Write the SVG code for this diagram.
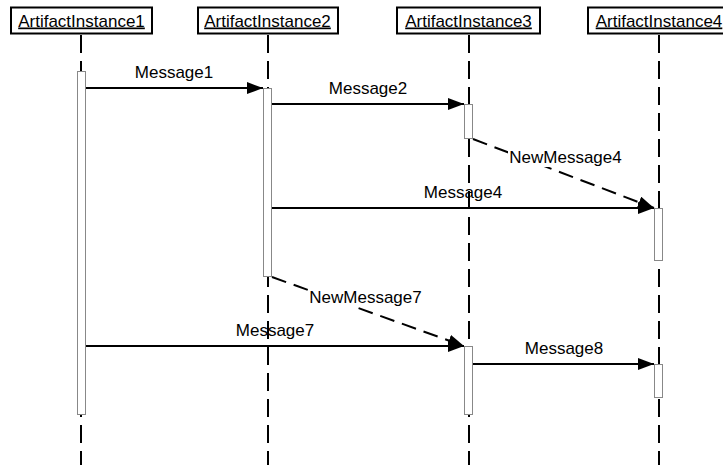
<svg xmlns="http://www.w3.org/2000/svg" width="723" height="465" viewBox="0 0 723 465">
  <style>
    text { font-family: "Liberation Sans", Arial, sans-serif; font-size: 17px; fill: #000; }
    .box { fill: #fff; stroke: #000; stroke-width: 2; }
    .name { text-anchor: middle; text-decoration: underline; }
    .life { stroke: #000; stroke-width: 2; stroke-dasharray: 18 8; fill: none; }
    .bar { fill: #fff; stroke: #888; stroke-width: 1; }
    .msg { stroke: #000; stroke-width: 2; fill: none; marker-end: url(#arrow); }
    .dash { stroke-dasharray: 15 8; }
    .lbl { text-anchor: middle; }
    .lblbg { fill: #fff; }
  </style>
  <defs>
    <marker id="arrow" markerUnits="userSpaceOnUse" markerWidth="16" markerHeight="12" refX="16" refY="6" orient="auto">
      <path d="M0,0 L16,6 L0,12 Z" fill="#000"/>
    </marker>
  </defs>

  <!-- lifelines -->
  <g id="lifelines">
    <line class="life" x1="81" y1="35" x2="81" y2="465"/>
    <line class="life" x1="268" y1="35" x2="268" y2="465"/>
    <line class="life" x1="469" y1="35" x2="469" y2="465"/>
    <line class="life" x1="659" y1="35" x2="659" y2="465"/>
  </g>

  <!-- instance heads and activation bars -->
  <g id="ArtifactInstance1">
    <rect class="box" x="11" y="7.5" width="141" height="26"/>
    <text class="name" x="81.5" y="26.5">ArtifactInstance1</text>
    <rect class="bar" x="77.5" y="71.5" width="8" height="343"/>
  </g>
  <g id="ArtifactInstance2">
    <rect class="box" x="198" y="7.5" width="140" height="26"/>
    <text class="name" x="267.5" y="26.5">ArtifactInstance2</text>
    <rect class="bar" x="263.5" y="88.5" width="8" height="188"/>
  </g>
  <g id="ArtifactInstance3">
    <rect class="box" x="397" y="7.5" width="143" height="26"/>
    <text class="name" x="468.5" y="26.5">ArtifactInstance3</text>
    <rect class="bar" x="464.5" y="104.5" width="8" height="34"/>
    <rect class="bar" x="464.5" y="346.5" width="8" height="68"/>
  </g>
  <g id="ArtifactInstance4">
    <rect class="box" x="588" y="7.5" width="142" height="26"/>
    <text class="name" x="659" y="26.5">ArtifactInstance4</text>
    <rect class="bar" x="654.5" y="208.5" width="8" height="52"/>
    <rect class="bar" x="654.5" y="364.5" width="8" height="33"/>
  </g>

  <!-- messages -->
  <g id="connectors">
    <line class="msg" x1="86" y1="88" x2="263" y2="88"/>
    <text class="lbl" x="174" y="77.5">Message1</text>

    <line class="msg" x1="272" y1="104" x2="464" y2="104"/>
    <text class="lbl" x="368" y="93.5">Message2</text>

    <line class="msg dash" x1="473" y1="139" x2="654" y2="208"/>
    <rect class="lblbg" x="508" y="149" width="115" height="18"/>
    <text class="lbl" x="565.5" y="163">NewMessage4</text>

    <line class="msg" x1="272" y1="208" x2="654" y2="208"/>
    <text class="lbl" x="463" y="197.5">Message4</text>

    <line class="msg dash" x1="272" y1="277" x2="464" y2="346"/>
    <rect class="lblbg" x="308" y="289" width="115" height="18"/>
    <text class="lbl" x="365.5" y="303">NewMessage7</text>

    <line class="msg" x1="86" y1="346" x2="464" y2="346"/>
    <text class="lbl" x="275" y="336">Message7</text>

    <line class="msg" x1="473" y1="364" x2="654" y2="364"/>
    <text class="lbl" x="564" y="353.5">Message8</text>
  </g>
</svg>
